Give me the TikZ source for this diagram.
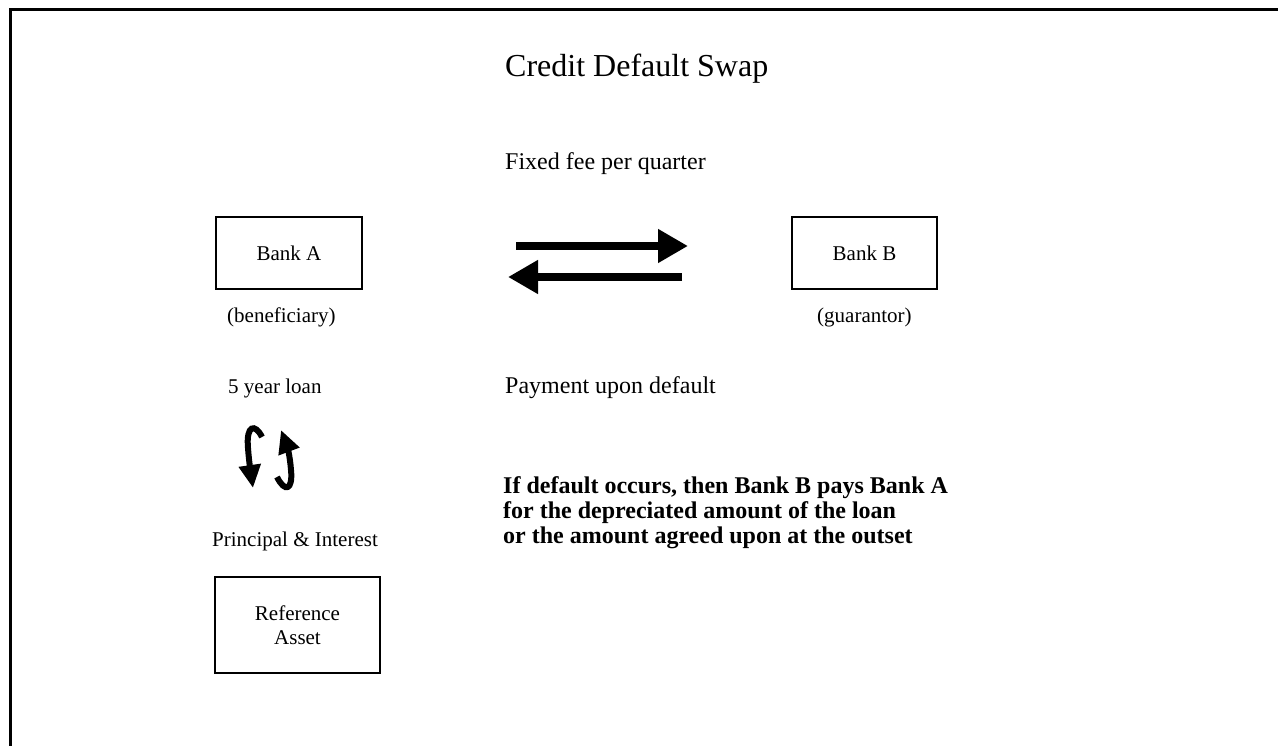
\documentclass[tikz,border=0pt]{standalone}
\usepackage{fontspec}
\setmainfont{Liberation Serif}
\usetikzlibrary{arrows.meta}
\begin{document}
\begin{tikzpicture}[x=1pt,y=-1pt,
  box/.style={draw,line width=1.8pt,minimum width=#1,inner sep=0pt,font=\fontsize{21}{24}\selectfont,align=center},
  small/.style={inner sep=0pt,font=\fontsize{21}{24}\selectfont},
  mid/.style={inner sep=0pt,font=\fontsize{24}{25}\selectfont},
  fat/.style={line width=7.5pt,-{Triangle[length=30pt,width=32pt]}},
  curly/.style={line width=6pt,-{Triangle[length=23pt,width=21pt]}}]
\useasboundingbox (0,0) rectangle (1278,746);
% frame
\draw[line width=2.5pt] (10.5,760) -- (10.5,9.5) -- (1290,9.5);
% title
\node[inner sep=0pt,font=\fontsize{32}{36}\selectfont,anchor=base west] (title) at (505,77) {Credit Default Swap};
% boxes
\node[box=146pt,minimum height=72pt] (bankA) at (289,253) {Bank A};
\node[box=145pt,minimum height=72pt] (bankB) at (864.5,253) {Bank B};
\node[box=165pt,minimum height=96pt] (ref) at (297.5,625) {Reference\\Asset};
% labels
\node[small,anchor=base west] (benef) at (227,323) {(beneficiary)};
\node[small,anchor=base west] (guar) at (817,323) {(guarantor)};
\node[small,anchor=base west] (loan) at (228,393) {5 year loan};
\node[small,anchor=base west] (pi) at (212,546) {Principal \& Interest};
\node[mid,anchor=base west] (fee) at (505,170) {Fixed fee per quarter};
\node[mid,anchor=base west] (pay) at (505,393) {Payment upon default};
\node[mid,anchor=base west,align=left,font=\fontsize{24}{25}\selectfont\bfseries] (note) at (503,543)
  {If default occurs, then Bank B pays Bank A\\for the depreciated amount of the loan\\or the amount agreed upon at the outset};
% horizontal arrows
\coordinate (r1) at (516,246); \coordinate (r2) at (688,246);
\coordinate (l1) at (682,277); \coordinate (l2) at (508,277);
\draw[fat] (r1) -- (r2);
\draw[fat] (l1) -- (l2);
% curved arrows
\coordinate (c1) at (262,437); \coordinate (c2) at (253,488);
\coordinate (d1) at (277,477); \coordinate (d2) at (281,430);
\draw[curly] (c1) .. controls (255,423) and (246,425) .. (248,448) .. controls (249,462) and (251,474) .. (c2);
\draw[curly] (d1) .. controls (285,493) and (293,490) .. (291,470) .. controls (290,456) and (287,446) .. (d2);
\end{tikzpicture}
\end{document}
